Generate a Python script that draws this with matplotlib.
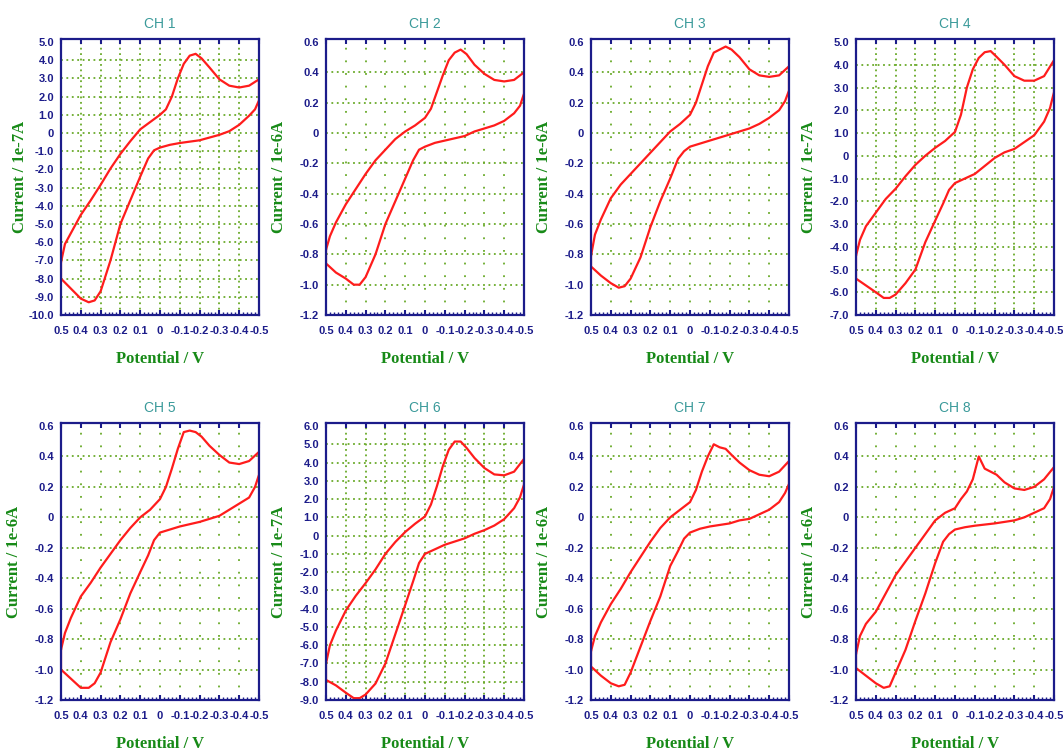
import matplotlib
matplotlib.use("Agg")
import matplotlib.pyplot as plt
import numpy as np

# ---------------- data ----------------
channels = ["CH 1", "CH 2", "CH 3", "CH 4", "CH 5", "CH 6", "CH 7", "CH 8"]
units = ["1e-7A", "1e-6A", "1e-6A", "1e-7A", "1e-6A", "1e-7A", "1e-6A", "1e-6A"]
y_min = [-10.0, -1.2, -1.2, -7.0, -1.2, -9.0, -1.2, -1.2]
y_max = [5.0, 0.6, 0.6, 5.0, 0.6, 6.0, 0.6, 0.6]
y_step = [1.0, 0.2, 0.2, 1.0, 0.2, 1.0, 0.2, 0.2]
x_ticks = [0.5, 0.4, 0.3, 0.2, 0.1, 0.0, -0.1, -0.2, -0.3, -0.4, -0.5]

# potentials of the forward (upper) sweep, 0.5 V -> -0.5 V
up_v = [0.5, 0.48, 0.45, 0.4, 0.35, 0.3, 0.25, 0.2, 0.15, 0.1, 0.05, 0.0,
        -0.03, -0.06, -0.09, -0.12, -0.15, -0.18, -0.21, -0.25, -0.3,
        -0.35, -0.4, -0.45, -0.5]
# potentials of the reverse (lower) sweep, -0.5 V -> 0.5 V
dn_v = [-0.5, -0.48, -0.45, -0.4, -0.35, -0.3, -0.25, -0.2, -0.1, -0.05,
        0.0, 0.03, 0.06, 0.1, 0.15, 0.2, 0.25, 0.3, 0.33, 0.36, 0.4, 0.45, 0.5]

ch1_up = [-7.1, -6.1, -5.5, -4.5, -3.7, -2.85, -1.95, -1.15, -0.45, 0.2, 0.6, 1.0,
          1.3, 2.0, 3.0, 3.8, 4.25, 4.35, 4.1, 3.6, 2.95, 2.6, 2.5, 2.6, 2.95]
ch1_dn = [1.8, 1.3, 0.95, 0.45, 0.1, -0.1, -0.25, -0.4, -0.55, -0.65,
          -0.8, -0.95, -1.4, -2.4, -3.7, -5.0, -7.0, -8.7, -9.2, -9.3, -9.1, -8.55, -8.0]

ch2_up = [-0.77, -0.68, -0.59, -0.47, -0.37, -0.27, -0.18, -0.11, -0.04, 0.01, 0.05, 0.1,
          0.16, 0.27, 0.38, 0.48, 0.53, 0.55, 0.52, 0.45, 0.39, 0.35, 0.34, 0.35, 0.4]
ch2_dn = [0.26, 0.18, 0.13, 0.08, 0.05, 0.03, 0.01, -0.02, -0.05, -0.065,
          -0.09, -0.11, -0.18, -0.3, -0.45, -0.6, -0.8, -0.95, -1.0, -1.0, -0.96, -0.92, -0.86]

ch3_up = [-0.81, -0.67, -0.57, -0.43, -0.34, -0.27, -0.2, -0.13, -0.06, 0.01, 0.06, 0.12,
          0.2, 0.32, 0.44, 0.53, 0.55, 0.57, 0.55, 0.5, 0.42, 0.38, 0.37, 0.38, 0.44]
ch3_dn = [0.28, 0.21, 0.15, 0.1, 0.06, 0.03, 0.01, -0.01, -0.05, -0.07,
          -0.09, -0.12, -0.17, -0.3, -0.45, -0.62, -0.82, -0.96, -1.01, -1.02, -0.99, -0.94, -0.88]

ch4_up = [-4.4, -3.7, -3.1, -2.5, -1.9, -1.45, -0.9, -0.4, 0.0, 0.35, 0.65, 1.05,
          1.8, 3.0, 3.8, 4.3, 4.55, 4.6, 4.35, 4.0, 3.5, 3.3, 3.3, 3.5, 4.2]
ch4_dn = [2.8, 2.1, 1.5, 0.9, 0.6, 0.3, 0.15, -0.1, -0.8, -1.0,
          -1.2, -1.5, -2.1, -2.85, -3.8, -5.0, -5.6, -6.1, -6.25, -6.25, -6.0, -5.7, -5.4]

ch5_up = [-0.87, -0.76, -0.66, -0.52, -0.43, -0.33, -0.24, -0.15, -0.07, 0.0, 0.05, 0.12,
          0.2, 0.32, 0.45, 0.56, 0.57, 0.56, 0.53, 0.47, 0.41, 0.36, 0.35, 0.37, 0.43]
ch5_dn = [0.28, 0.2, 0.13, 0.09, 0.05, 0.01, -0.01, -0.03, -0.06, -0.08,
          -0.1, -0.15, -0.25, -0.36, -0.5, -0.67, -0.82, -1.02, -1.09, -1.12, -1.12, -1.06, -1.0]

ch6_up = [-7.0, -6.0, -5.2, -4.1, -3.3, -2.6, -1.85, -1.0, -0.35, 0.2, 0.65, 1.05,
          1.7, 2.7, 3.8, 4.7, 5.15, 5.15, 4.8, 4.25, 3.7, 3.35, 3.3, 3.5, 4.2]
ch6_dn = [2.8, 2.1, 1.5, 0.9, 0.55, 0.3, 0.1, -0.15, -0.5, -0.75,
          -1.0, -1.5, -2.5, -3.8, -5.4, -7.0, -8.1, -8.7, -8.9, -8.9, -8.6, -8.2, -7.9]

ch7_up = [-0.88, -0.78, -0.69, -0.57, -0.47, -0.36, -0.26, -0.16, -0.07, 0.0, 0.05, 0.1,
          0.18, 0.3, 0.4, 0.48, 0.46, 0.45, 0.41, 0.36, 0.31, 0.28, 0.27, 0.3, 0.37]
ch7_dn = [0.22, 0.16, 0.1, 0.05, 0.02, -0.01, -0.02, -0.04, -0.06, -0.075,
          -0.1, -0.14, -0.22, -0.32, -0.52, -0.68, -0.85, -1.02, -1.1, -1.11, -1.09, -1.04, -0.98]

ch8_up = [-0.9, -0.78, -0.7, -0.62, -0.5, -0.38, -0.29, -0.2, -0.11, -0.02, 0.03, 0.06,
          0.12, 0.17, 0.25, 0.4, 0.32, 0.3, 0.28, 0.23, 0.19, 0.18, 0.2, 0.25, 0.33]
ch8_dn = [0.2, 0.12, 0.06, 0.03, 0.0, -0.02, -0.03, -0.04, -0.055, -0.065,
          -0.08, -0.11, -0.16, -0.3, -0.5, -0.68, -0.87, -1.02, -1.11, -1.12, -1.09, -1.04, -0.99]

up_currents = [ch1_up, ch2_up, ch3_up, ch4_up, ch5_up, ch6_up, ch7_up, ch8_up]
dn_currents = [ch1_dn, ch2_dn, ch3_dn, ch4_dn, ch5_dn, ch6_dn, ch7_dn, ch8_dn]

# ---------------- style ----------------
NAVY = "#1c1c8a"
GREEN = "#178a17"
TEAL = "#3a9a9a"
GRIDC = "#6aaa2a"
RED = "#ff1c1c"

W, H = 1063, 755
fig = plt.figure(figsize=(W / 100, H / 100), dpi=100)

col_left = [61, 326, 591, 856]
row_top = [39, 423]
row_bot = [315, 700]
ax_w = 198
ylabel_x = [-0.165, -0.197, -0.197, -0.197, -0.197, -0.197, -0.197, -0.197]


def fmt(v):
    if abs(v) < 1e-9:
        return "0"
    return f"{v:.1f}"


for k in range(8):
    r, c = divmod(k, 4)
    left = col_left[c] / W
    bottom = 1 - row_bot[r] / H
    height = (row_bot[r] - row_top[r]) / H
    ax = fig.add_axes([left, bottom, ax_w / W, height])

    lo, hi, st = y_min[k], y_max[k], y_step[k]
    yt = np.round(np.arange(lo, hi + st / 2, st), 6)
    rng = hi - lo
    ax.set_xlim(0.5, -0.5)
    ax.set_ylim(lo, hi + rng * 0.011)

    dense = st >= 1.0
    # grid (interior ticks only)
    for y in yt[1:-1]:
        ax.axhline(y, color=GRIDC, lw=1.3, ls=(0, (1, 2)), zorder=1)
    for x in x_ticks[1:-1]:
        ax.axvline(x, color=GRIDC, lw=1.3, ls=(0, (1, 2) if dense else (1, 6)), zorder=1)

    # CV loop
    vv = list(up_v) + list(dn_v) + [up_v[0]]
    ii = list(up_currents[k]) + list(dn_currents[k]) + [up_currents[k][0]]
    ax.plot(vv, ii, color=RED, lw=1.6, zorder=3, solid_joinstyle="round")

    # ticks
    ax.set_xticks(x_ticks)
    ax.set_xticklabels([fmt(v) for v in x_ticks])
    ax.set_yticks(yt)
    ax.set_yticklabels([fmt(v) for v in yt])
    ax.set_xticks(np.round(np.arange(-0.5, 0.5001, 0.02), 3), minor=True)
    ax.tick_params(axis="x", which="major", direction="in", top=True, bottom=True,
                   length=3.5, width=1.5, color=NAVY, pad=8, labelsize=8,
                   labelcolor=NAVY)
    ax.tick_params(axis="x", which="minor", direction="in", top=False, bottom=True,
                   length=2.2, width=1.0, color=NAVY)
    ax.tick_params(axis="y", which="major", direction="in", left=True, right=False,
                   length=0, pad=5, labelsize=8, labelcolor=NAVY)
    for lab in ax.get_xticklabels() + ax.get_yticklabels():
        lab.set_fontfamily("Liberation Sans")
        lab.set_fontweight("bold")

    for s in ax.spines.values():
        s.set_color(NAVY)
        s.set_linewidth(1.6)
        s.set_zorder(4)

    ax.set_title(channels[k], color=TEAL, fontsize=10, family="Liberation Sans",
                 pad=8)
    ax.set_xlabel("Potential / V", color=GREEN, fontsize=12, family="Liberation Serif",
                  fontweight="bold", labelpad=11)
    ax.set_ylabel(f"Current / {units[k]}", color=GREEN, fontsize=12,
                  family="Liberation Serif", fontweight="bold")
    ax.yaxis.set_label_coords(ylabel_x[k], 0.5)

fig.savefig("out.png", dpi=100, facecolor="white")
